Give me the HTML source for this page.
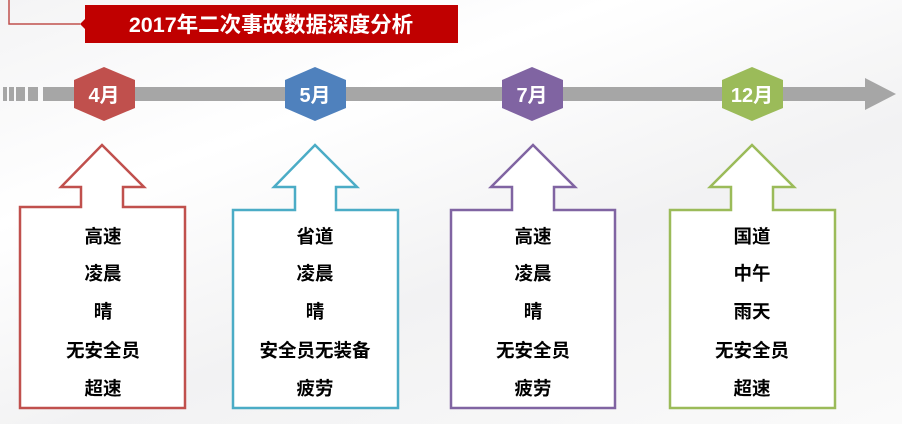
<!DOCTYPE html>
<html><head><meta charset="utf-8"><style>
html,body{margin:0;padding:0;}
body{width:902px;height:424px;overflow:hidden;background:linear-gradient(160deg,#f4f4f5 0%,#ffffff 30%,#f2f2f3 60%,#fafafa 100%);font-family:"Liberation Sans","Noto Sans CJK SC",sans-serif;position:relative;}
svg{position:absolute;left:0;top:0;}
.t{font-family:"Liberation Sans","Noto Sans CJK SC",sans-serif;font-weight:bold;font-size:18.5px;fill:#000;text-anchor:middle;}
.h{font-family:"Liberation Sans","Noto Sans CJK SC",sans-serif;font-weight:bold;font-size:20px;fill:#fff;text-anchor:middle;}
</style></head><body>
<svg width="902" height="424" viewBox="0 0 902 424">
<polyline points="9,0 9,24 80,24" fill="none" stroke="#c0504d" stroke-width="1.5"/>
<polygon points="85,5 458,5 458,43 85,43 85,29 80,24 85,19" fill="#c00000"/>
<text x="271" y="32" font-family="Liberation Sans,Noto Sans CJK SC,sans-serif" font-weight="bold" font-size="21.5" fill="#fff" text-anchor="middle">2017年二次事故数据深度分析</text>
<g fill="#a6a6a6">
<rect x="3" y="87" width="4" height="14"/>
<rect x="9" y="87" width="5" height="14"/>
<rect x="16" y="87" width="9" height="14"/>
<rect x="28" y="87" width="10" height="14"/>
<rect x="43" y="87" width="824" height="14"/>
<polygon points="865,78 896,94 865,110"/>
</g>
<g>
<polygon points="104,67 135,80 135,108 104,121 74,108 74,80" fill="#c0504d"/>
<text class="h" x="104" y="102">4月</text>
<polygon points="315,67 346,80 346,108 315,121 285,108 285,80" fill="#4f81bd"/>
<text class="h" x="315" y="102">5月</text>
<polygon points="532,67 563,80 563,108 532,121 502,108 502,80" fill="#8064a2"/>
<text class="h" x="532" y="102">7月</text>
<polygon points="752,67 783,80 783,108 752,121 722,108 722,80" fill="#9bbb59"/>
<text class="h" x="752" y="102">12月</text>
</g>
<polygon points="102,145 144,187 123,187 123,207 185,207 185,408 20,408 20,207 81,207 81,187 61,187" fill="#fff" stroke="#c0504d" stroke-width="2.5"/>
<polygon points="315,145 357,187 336,187 336,210 398,210 398,408 233,408 233,210 295,210 295,187 274,187" fill="#fff" stroke="#4bacc6" stroke-width="2.5"/>
<polygon points="533,145 575,187 554,187 554,210 615,210 615,408 451,408 451,210 512,210 512,187 491,187" fill="#fff" stroke="#8064a2" stroke-width="2.5"/>
<polygon points="752,145 794,187 773,187 773,210 835,210 835,408 670,408 670,210 731,210 731,187 710,187" fill="#fff" stroke="#9bbb59" stroke-width="2.5"/>
<g>
<text class="t" x="103" y="243">高速</text><text class="t" x="103" y="280">凌晨</text><text class="t" x="103" y="318">晴</text><text class="t" x="103" y="357">无安全员</text><text class="t" x="103" y="395">超速</text>
<text class="t" x="315" y="243">省道</text><text class="t" x="315" y="280">凌晨</text><text class="t" x="315" y="318">晴</text><text class="t" x="315" y="357">安全员无装备</text><text class="t" x="315" y="395">疲劳</text>
<text class="t" x="533" y="243">高速</text><text class="t" x="533" y="280">凌晨</text><text class="t" x="533" y="318">晴</text><text class="t" x="533" y="357">无安全员</text><text class="t" x="533" y="395">疲劳</text>
<text class="t" x="752" y="243">国道</text><text class="t" x="752" y="280">中午</text><text class="t" x="752" y="318">雨天</text><text class="t" x="752" y="357">无安全员</text><text class="t" x="752" y="395">超速</text>
</g>
</svg>
</body></html>
